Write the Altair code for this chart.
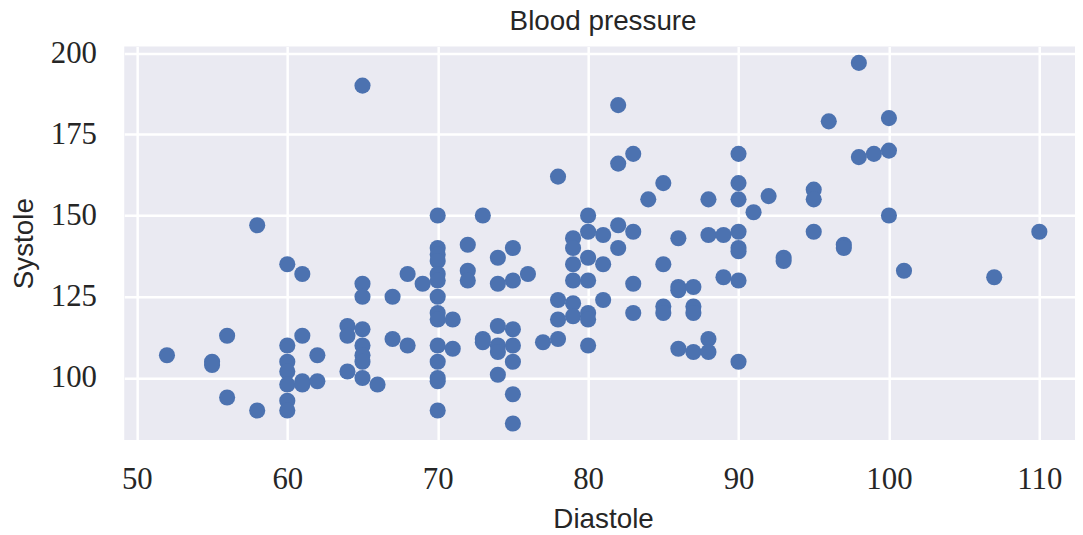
import altair as alt
import pandas as pd

# Diastole / Systole pairs
diastole = [
    52,
    55, 55,
    56, 56,
    58, 58,
    60, 60, 60, 60, 60, 60, 60,
    61, 61, 61, 61,
    62, 62,
    64, 64, 64,
    65, 65, 65, 65, 65, 65, 65, 65,
    66,
    67, 67,
    68, 68,
    69,
    70, 70, 70, 70, 70, 70, 70, 70, 70, 70, 70, 70, 70, 70,
    71, 71,
    72, 72, 72,
    73, 73, 73,
    74, 74, 74, 74, 74, 74,
    75, 75, 75, 75, 75, 75, 75,
    76,
    77,
    78, 78, 78, 78,
    79, 79, 79, 79, 79, 79,
    80, 80, 80, 80, 80, 80, 80,
    81, 81, 81,
    82, 82, 82, 82,
    83, 83, 83, 83,
    84,
    85, 85, 85, 85,
    86, 86, 86, 86,
    87, 87, 87, 87,
    88, 88, 88, 88,
    89, 89,
    90, 90, 90, 90, 90, 90, 90, 90,
    91,
    92,
    93, 93,
    95, 95, 95,
    96,
    97, 97,
    98, 98,
    99,
    100, 100, 100,
    101,
    107,
    110,
]
systole = [
    107,
    105, 104,
    113, 94,
    147, 90,
    135, 110, 105, 102, 98, 93, 90,
    132, 113, 99, 98,
    107, 99,
    116, 113, 102,
    190, 129, 125, 115, 110, 107, 105, 100,
    98,
    125, 112,
    132, 110,
    129,
    150, 140, 138, 136, 132, 130, 125, 120, 118, 110, 105, 100, 99, 90,
    118, 109,
    141, 133, 130,
    150, 112, 111,
    137, 129, 116, 110, 108, 101,
    140, 130, 115, 110, 105, 95, 86,
    132,
    111,
    162, 124, 118, 112,
    143, 140, 135, 130, 123, 119,
    150, 145, 137, 130, 120, 118, 110,
    144, 135, 124,
    184, 166, 147, 140,
    169, 145, 129, 120,
    155,
    160, 135, 122, 120,
    143, 128, 127, 109,
    128, 122, 120, 108,
    155, 144, 112, 108,
    144, 131,
    169, 160, 155, 145, 140, 139, 130, 105,
    151,
    156,
    137, 136,
    158, 155, 145,
    179,
    141, 140,
    197, 168,
    169,
    180, 170, 150,
    133,
    131,
    145,
]

x_ticks = [50, 60, 70, 80, 90, 100, 110]
y_ticks = [100, 125, 150, 175, 200]
chart_title = "Blood pressure"

df = pd.DataFrame({"Diastole": diastole, "Systole": systole})

TEXT = "#262626"

points = (
    alt.Chart(df)
    .mark_circle(size=263, opacity=1, color="#4C72B0")
    .encode(
        x=alt.X(
            "Diastole:Q",
            scale=alt.Scale(domain=[49.16, 112.37], nice=False, zero=False),
            axis=alt.Axis(
                values=x_ticks,
                title="Diastole",
                labelPadding=25,
                titleX=482,
                titleY=88,
                titleBaseline="alphabetic",
            ),
        ),
        y=alt.Y(
            "Systole:Q",
            scale=alt.Scale(domain=[80.95, 202.05], nice=False, zero=False),
            axis=alt.Axis(
                values=y_ticks,
                title="Systole",
                labelPadding=28,
                titleX=-92,
                titleBaseline="alphabetic",
            ),
        ),
    )
)

title_text = (
    alt.Chart(pd.DataFrame({"t": [chart_title]}))
    .mark_text(
        font="Liberation Sans",
        fontSize=28,
        color=TEXT,
        align="center",
        baseline="alphabetic",
    )
    .encode(text="t:N", x=alt.value(482), y=alt.value(-17))
)

chart = (
    alt.layer(points, title_text)
    .properties(
        width=957,
        height=396,
        autosize=alt.AutoSizeParams(type="none"),
        padding={"left": 117, "top": 37, "right": 0, "bottom": 92},
    )
    .configure(background="white")
    .configure_view(fill="#EAEAF2", strokeWidth=0)
    .configure_axis(
        grid=True,
        gridColor="white",
        gridWidth=2.5,
        domain=False,
        ticks=False,
        tickSize=0,
        labelFont="Liberation Serif",
        labelFontSize=31,
        labelColor=TEXT,
        titleFont="Liberation Sans",
        titleFontSize=28,
        titleFontWeight="normal",
        titleColor=TEXT,
    )
)

chart.save("out.html", embed_options={"renderer": "svg", "actions": False})
